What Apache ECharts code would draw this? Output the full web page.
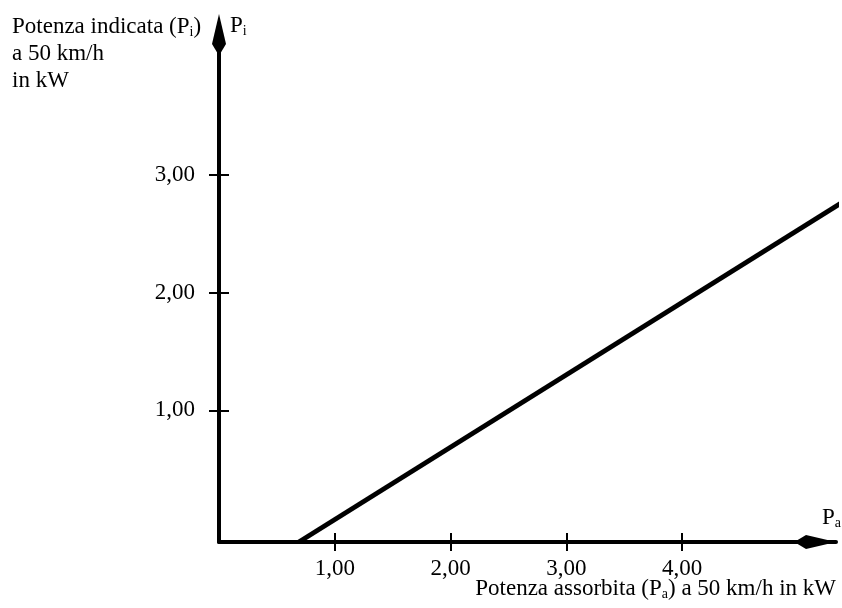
<!DOCTYPE html>
<html>
<head>
<meta charset="utf-8">
<script src="https://cdn.jsdelivr.net/npm/echarts@6/dist/echarts.min.js"></script>
<style>
  html, body { margin: 0; background: #fff; }
  #main { width: 842px; height: 608px; }
</style>
</head>
<body>
<div id="main"></div>
<script>
// values
const xTicks = [1, 2, 3, 4];
const yTicks = [1, 2, 3];
const xRange = [0, 5.33];
const yRange = [-0.12, 4.2];
const linePa = [0.69, 5.37];   // Potenza assorbita
const linePi = [-0.12, 2.76];  // Potenza indicata

const serif = '"Liberation Serif", "DejaVu Serif", serif';
const ink = '#000';
const fmt = v => v.toFixed(2).replace('.', ',');
const arrow = 'path://M7 0 L14 30 L8 40 L6 40 L0 30 Z';
const rich = {
    n: { fontFamily: serif, fontSize: 23, color: ink },
    s: { fontFamily: serif, fontSize: 14, color: ink, padding: [12, 0, 0, 0] }
};

const grid = { left: 219, right: 6, top: 34, bottom: 66 };

const chart = echarts.init(document.getElementById('main'), null, { renderer: 'canvas' });

chart.setOption({
    animation: false,
    backgroundColor: '#fff',
    grid: [grid, grid],
    xAxis: [
        {
            type: 'value', gridIndex: 0, min: xRange[0], max: xRange[1],
            splitLine: { show: false },
            axisLine: { onZero: false, symbol: ['none', arrow], symbolSize: [14, 40],
                symbolOffset: [0, -20],
                lineStyle: { color: ink, width: 4 } },
            axisTick: { customValues: xTicks, length: 9, lineStyle: { color: ink, width: 2 } },
            axisLabel: { customValues: xTicks, formatter: fmt, margin: 15,
                fontFamily: serif, fontSize: 23, color: ink }
        },
        {
            type: 'value', gridIndex: 1, min: xRange[0], max: xRange[1],
            splitLine: { show: false },
            axisLine: { show: false, onZero: false },
            axisTick: { customValues: xTicks, inside: true, length: 9, lineStyle: { color: ink, width: 2 } },
            axisLabel: { show: false }
        }
    ],
    yAxis: [
        {
            type: 'value', gridIndex: 0, min: yRange[0], max: yRange[1],
            splitLine: { show: false },
            axisLine: { onZero: false, symbol: ['none', arrow], symbolSize: [14, 40],
                lineStyle: { color: ink, width: 4 } },
            axisTick: { customValues: yTicks, length: 10, lineStyle: { color: ink, width: 2 } },
            axisLabel: { customValues: yTicks, formatter: fmt, margin: 24,
                fontFamily: serif, fontSize: 23, color: ink }
        },
        {
            type: 'value', gridIndex: 1, min: yRange[0], max: yRange[1],
            splitLine: { show: false },
            axisLine: { show: false, onZero: false },
            axisTick: { customValues: yTicks, inside: true, length: 10, lineStyle: { color: ink, width: 2 } },
            axisLabel: { show: false }
        }
    ],
    series: [
        {
            type: 'line',
            xAxisIndex: 0, yAxisIndex: 0,
            data: linePa.map((x, i) => [x, linePi[i]]),
            symbol: 'none',
            clip: false,
            lineStyle: { color: ink, width: 5 }
        }
    ],
    graphic: [
        {
            type: 'text', left: 12, top: 13,
            style: {
                text: '{n|Potenza indicata (P}{s|i}{n|)}\n{n|a 50 km/h}\n{n|in kW}',
                rich: rich, lineHeight: 27
            }
        },
        {
            type: 'text', left: 230, top: 14,
            style: { text: '{n|P}{s|i}', rich: rich }
        },
        {
            type: 'text', left: 822, top: 506,
            style: { text: '{n|P}{s|a}', rich: rich }
        },
        {
            type: 'text', right: 6, top: 577,
            style: { text: '{n|Potenza assorbita (P}{s|a}{n|) a 50 km/h in kW}', rich: rich }
        }
    ]
});
</script>
</body>
</html>
